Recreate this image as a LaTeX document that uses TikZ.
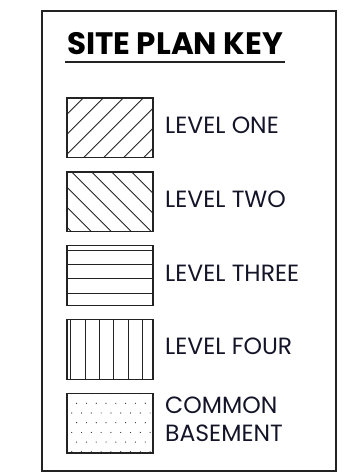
\documentclass[tikz,border=0pt]{standalone}
\usepackage{fontspec}
\setmainfont{Poppins}
\usepackage{xcolor}
\definecolor{keyink}{RGB}{35,35,35}
\definecolor{keytext}{RGB}{20,20,40}
\usetikzlibrary{positioning}

\begin{document}
\begin{tikzpicture}[x=1pt, y=1pt,
    swatch/.style={draw=keyink, line width=1.3pt},
    hatch/.style={draw=keyink, line width=0.9pt},
    keylabel/.style={font=\fontsize{23.5}{28}\selectfont, text=keytext,
        anchor=base west, inner sep=0pt, align=left}]

\useasboundingbox (0,0) rectangle (350,474);

% === Frame and title ===
\draw[keyink, line width=1.5pt] (42,3) rectangle (336,463);
\node[font=\fontsize{31}{31}\selectfont\bfseries, text=black, anchor=base,
      inner sep=0pt] (title) at (175,419) {SITE PLAN KEY};
\draw[keyink, line width=1.5pt] (65,412) -- (285,412);

% === Level one: / hatch ===
\begin{scope}[shift={(67,316.5)}]
  \begin{scope}
    \clip (0,0) rectangle (86,59.5);
    \foreach \x in {-63.2,-43.2,...,96.8}
      \draw[hatch] (\x,0) -- ++(59.5,59.5);
  \end{scope}
  \draw[swatch] (0,0) rectangle (86,59.5);
  \node[keylabel] (lvlone) at (98,24.2) {LEVEL ONE};
\end{scope}

% === Level two: \ hatch ===
\begin{scope}[shift={(67,242.6)}]
  \begin{scope}
    \clip (0,0) rectangle (86,59.5);
    \foreach \x in {-55.3,-35.3,...,84.7}
      \draw[hatch] (\x,59.5) -- ++(59.5,-59.5);
  \end{scope}
  \draw[swatch] (0,0) rectangle (86,59.5);
  \node[keylabel] (lvltwo) at (98,24.2) {LEVEL TWO};
\end{scope}

% === Level three: horizontal lines ===
\begin{scope}[shift={(67,168.7)}]
  \foreach \y in {0,...,3}
    \draw[hatch] (0,12.2+14.2*\y) -- ++(86,0);
  \draw[swatch] (0,0) rectangle (86,59.5);
  \node[keylabel] (lvlthree) at (98,24.2) {LEVEL THREE};
\end{scope}

% === Level four: vertical lines ===
\begin{scope}[shift={(67,94.8)}]
  \foreach \x in {0,...,5}
    \draw[hatch] (3.7+14.4*\x,0) -- ++(0,59.5);
  \draw[swatch] (0,0) rectangle (86,59.5);
  \node[keylabel] (lvlfour) at (98,24.2) {LEVEL FOUR};
\end{scope}

% === Common basement: dots ===
\begin{scope}[shift={(67,20.9)}]
  \begin{scope}
    \clip (0,0) rectangle (86,59.5);
    \foreach \r [evaluate=\r as \yy using 59.5-9.7*\r,
                 evaluate=\r as \xo using {4.7+4.9*mod(\r,2)}] in {0,...,6}
      \foreach \k in {0,...,8}
        \fill[keyink] ({\xo+9.8*\k},\yy) circle (0.6);
  \end{scope}
  \draw[swatch] (0,0) rectangle (86,59.5);
  \node[keylabel] (common) at (98,11.1) {COMMON\\BASEMENT};
\end{scope}

\end{tikzpicture}
\end{document}
